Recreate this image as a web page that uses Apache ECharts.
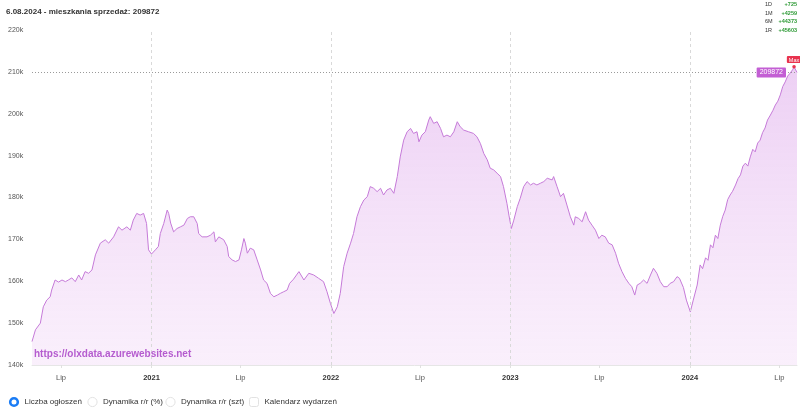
<!DOCTYPE html>
<html><head><meta charset="utf-8">
<script src="https://cdn.jsdelivr.net/npm/echarts@6/dist/echarts.min.js"></script>
<style>html,body{margin:0;padding:0;background:#fff}#c{width:800px;height:415px}</style>
</head><body><div id="c"></div>
<script>
const titleText = '6.08.2024 - mieszkania sprzedaż: 209872';
const watermarkText = 'https://olxdata.azurewebsites.net';
// day offsets relative to 2021-01-01
const baseYear = 2021;
const dayOffsets = [-243,-236,-226,-220,-213,-206,-203,-196,-189,-182,-175,-169,-162,-155,-148,-142,-135,-128,-121,-114,-104,-94,-87,-77,-67,-60,-50,-43,-37,-30,-23,-16,-10,-6,
0,4,8,14,18,25,32,35,39,45,52,59,66,73,79,86,93,96,103,113,120,127,130,137,147,154,157,164,171,178,183,188,191,195,201,208,215,222,228,235,242,249,256,262,269,276,281,289,295,300,310,320,330,340,350,357,364,371,378,384,391,398,405,411,418,425,432,439,445,452,459,466,472,479,486,493,500,506,513,520,527,533,540,544,550,557,564,567,574,581,588,594,601,608,615,622,628,635,645,655,662,669,676,683,689,696,703,710,716,723,727,732,737,744,750,757,764,771,777,784,791,798,805,815,818,825,832,838,845,852,859,862,869,876,883,889,896,903,910,916,923,930,937,944,950,957,964,971,977,983,988,994,1001,1008,1015,1021,1028,1035,1042,1049,1055,1062,1069,1074,1082,1088,1096,1102,1110,
1116,1121,1127,1132,1137,1142,1147,1152,1157,1162,1167,1172,1177,1182,1188,1193,1198,1203,1208,1213,1218,1223,1228,1233,1238,1243,1248,1253,1259,1264,1269,1274,1279,1284,1289,1294,1299,1304,1307,1310,1313];
const listings = [145600,148400,150000,153900,155500,156300,157900,160300,159800,160300,159900,160300,160800,159900,161500,160300,162300,161900,162700,166300,169100,169900,169100,170600,173000,172200,173000,172200,174600,176200,175800,176200,173800,167500,
166500,166300,167500,168300,171400,173800,177000,176200,173900,171800,172600,173000,173400,175000,175400,175400,173800,171400,170600,170600,171000,171800,169400,170600,169900,168300,165900,165100,164700,165100,167500,170200,169100,166700,167900,167500,165100,162700,160300,159500,157100,156300,156700,157100,157500,157900,159500,160500,161500,162300,160300,161900,161500,160700,159900,157500,154700,152300,153900,157100,163500,166700,169100,171400,175400,177800,179400,180200,182600,182200,181400,182200,180600,181800,182200,181000,185000,189700,193700,195700,196500,195300,195700,193300,194900,195700,198500,199300,197700,198100,196500,194500,194900,194500,195700,198100,196900,196100,195700,195300,194500,192900,190500,189000,187000,186600,185800,185000,182600,178600,175800,172600,174600,177800,179800,182600,183800,183000,183400,183000,183400,183800,184600,184200,185000,182600,180200,181000,178200,175400,173400,175400,175000,174200,176600,174600,173400,172200,170200,171000,170600,169100,168700,166700,164300,162300,160700,159500,158700,156700,159100,159500,160300,159500,161500,163100,161900,159900,158700,158700,159500,159900,161100,160700,158500,155500,152700,155500,159100,
163900,163000,165600,165000,168700,168000,171000,170200,173400,175500,177000,179500,180600,181500,183000,184500,185400,187500,188200,187500,189700,191500,190900,193000,193700,195500,196600,198500,199700,200800,202100,203000,204500,206500,207600,209000,209700,210500,211200,210800,209872];
const yearStarts = ['2021-01-01','2022-01-01','2023-01-01','2024-01-01'];
const midYearLabel = 'Lip';
const statLabels = ['1D','1M','6M','1R'];
const statValues = ['+725','+4259','+44373','+45603'];
const legendItems = ['Liczba ogłoszeń','Dynamika r/r (%)','Dynamika r/r (szt)','Kalendarz wydarzeń'];
const yMin = 140000, yMax = 220000, yStep = 10000;

const FONT = '"Liberation Sans", Arial, Helvetica, sans-serif';
const toTime = d => new Date(baseYear, 0, 1 + d).getTime();
const seriesData = dayOffsets.map((d, i) => [toTime(d), listings[i]]);
const lastValue = listings[listings.length - 1];
const parseDay = s => { const p = s.split('-').map(Number); return new Date(p[0], p[1]-1, p[2]).getTime(); };

const chart = echarts.init(document.getElementById('c'), null, {renderer: 'canvas'});

const graphics = [];
graphics.push({type:'text', left: 34, top: 349, z: 100, style:{text: watermarkText, fontSize: 10, fontWeight: 'bold', fill: '#b55ccf', fontFamily: FONT}});
statLabels.forEach((l, i) => {
  graphics.push({type:'text', x: 765, y: 4.5 + i*8.5, style:{text: l, fontSize: 5.5, fill:'#333', fontFamily: FONT, verticalAlign:'middle', align:'left'}});
  graphics.push({type:'text', x: 797, y: 4.5 + i*8.5, style:{text: statValues[i], fontSize: 5.5, fontWeight:'bold', fill:'#2e9a36', fontFamily: FONT, verticalAlign:'middle', align:'right'}});
});
const legendX = [14, 92.5, 170.5, 254];
legendItems.forEach((t, i) => {
  const cx = legendX[i], cy = 402;
  if (i === 0) {
    graphics.push({type:'circle', shape:{cx, cy, r: 3.8}, style:{fill:'#fff', stroke:'#1a7cf5', lineWidth: 2.6}});
  } else if (i < 3) {
    graphics.push({type:'circle', shape:{cx, cy, r: 4.6}, style:{fill:'#fff', stroke:'#e2e2e2', lineWidth: 1}});
  } else {
    graphics.push({type:'rect', shape:{x: cx-4.5, y: cy-4.5, width: 9, height: 9, r: 2}, style:{fill:'#fff', stroke:'#e2e2e2', lineWidth: 1}});
  }
  graphics.push({type:'text', x: cx + 10.5, y: cy, style:{text: t, fontSize: 8, fill:'#333', fontFamily: FONT, verticalAlign:'middle'}});
});

const markLineData = yearStarts.map(s => ({xAxis: parseDay(s), lineStyle:{type:[3,3], color:'#d9d9d9', width:1}, label:{show:false}}));
markLineData.push({
  yAxis: lastValue,
  lineStyle: {type:[1,2], color:'#9a9a9a', width: 1},
  label: {show: true, position: 'insideEnd', distance: 11, formatter: String(lastValue), color:'#fff', fontSize: 7, fontFamily: FONT,
          backgroundColor:'#c35fd4', padding:[2,3,1,3], borderRadius: 1}
});

chart.setOption({
  animation: false,
  textStyle: {fontFamily: FONT},
  title: {text: titleText, left: 6, top: 8, padding: 0, textStyle: {fontSize: 8, fontWeight: 'bold', color: '#333', fontFamily: FONT}},
  grid: {left: 32, right: 3, top: 30, bottom: 50},
  xAxis: {
    type: 'time',
    min: 'dataMin', max: 'dataMax',
    minInterval: 3600*24*1000*180, maxInterval: 3600*24*1000*186,
    boundaryGap: false,
    axisLine: {show: true, lineStyle: {color: '#e6e6e6'}},
    axisTick: {show: true, length: 3, lineStyle: {color: '#e0e0e0'}},
    splitLine: {show: false},
    axisLabel: {
      showMinLabel: false, showMaxLabel: false, margin: 9, fontSize: 7.5, color: '#555', fontFamily: FONT,
      formatter: function (v) {
        const d = new Date(v);
        if (d.getMonth() === 0 && d.getDate() === 1) return '{y|' + d.getFullYear() + '}';
        if (d.getMonth() === 6) return midYearLabel;
        return '';
      },
      rich: {y: {fontWeight: 'bold', color: '#333', fontSize: 7.5, fontFamily: FONT}}
    }
  },
  yAxis: {
    type: 'value', min: yMin, max: yMax, interval: yStep,
    axisLine: {show: false}, axisTick: {show: false}, splitLine: {show: false},
    axisLabel: {align: 'left', margin: 24, fontSize: 7, color: '#555', fontFamily: FONT,
      formatter: v => (v/1000) + 'k'}
  },
  graphic: graphics,
  series: [{
    type: 'line',
    data: seriesData,
    showSymbol: false,
    symbol: 'none',
    lineStyle: {color: '#c57ad8', width: 1},
    areaStyle: {color: new echarts.graphic.LinearGradient(0, 0, 0, 1, [
      {offset: 0, color: 'rgba(205,125,225,0.52)'},
      {offset: 1, color: 'rgba(228,175,238,0.28)'}
    ])},
    markLine: {silent: true, symbol: ['none','none'], animation: false, data: markLineData},
    markPoint: {
      silent: true,
      data: [{type: 'max', name: 'Max'}],
      symbol: 'circle', symbolSize: 3.5,
      itemStyle: {color: '#e8334f'},
      label: {show: true, position: 'top', distance: 2, formatter: 'Max', color: '#fff', fontSize: 5.5, fontFamily: FONT,
              backgroundColor: '#e8334f', padding: [1,2,0,2], borderRadius: 1}
    }
  }]
});
</script></body></html>
